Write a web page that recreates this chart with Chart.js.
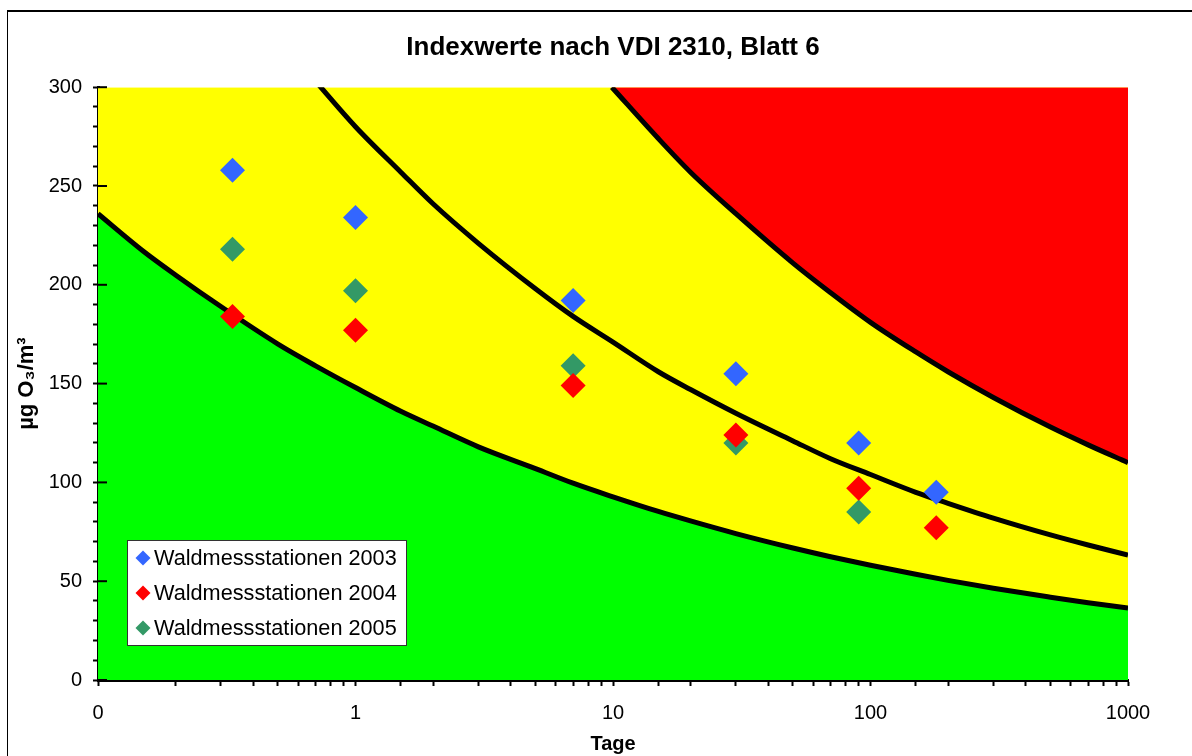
<!DOCTYPE html>
<html>
<head>
<meta charset="utf-8">
<script src="https://cdn.jsdelivr.net/npm/chart.js@4"></script>
<style>
  html, body { margin: 0; padding: 0; background: #fff; overflow: hidden; }
  #wrap { position: relative; width: 1192px; height: 756px; }
  #frame { position: absolute; left: 7px; top: 10px; width: 1300px; height: 800px;
           border-top: 2px solid #000; border-left: 1px solid #000; pointer-events: none; }
</style>
</head>
<body>
<div id="wrap">
  <canvas id="chart" width="1192" height="756"></canvas>
  <div id="frame"></div>
</div>
<script>
/* ── Messwerte (Tage / µg O3/m3) ───────────────────────── */
const tage      = [0.333, 1, 7, 30, 90, 180];
const werte2003 = [258, 234, 192, 155, 120, 95];
const werte2004 = [184, 177, 149, 124, 97, 77];
const werte2005 = [218, 197, 159, 120, 85];

/* ── Grenzkurven ───────────────────────────────────────── */
const untereX = [0.1, 0.15, 0.2, 0.3, 0.5, 0.7, 1, 1.5, 2, 3, 5, 7, 10, 15, 20, 30, 50, 70, 100, 150, 200, 300, 500, 700, 1000];
const untereY = [236, 217, 205, 189, 170, 159, 148, 136, 128.5, 118, 107, 99.6, 92.7, 85.3, 80.5, 74.1, 66.8, 62.4, 58.1, 53.5, 50.4, 46.4, 41.9, 39.1, 36.4];

const mittlereX = [0.5, 0.7, 1, 1.5, 2, 3, 5, 7, 10, 15, 20, 30, 50, 70, 100, 150, 200, 300, 500, 700, 1000];
const mittlereY = [325, 303, 280, 257, 241, 221, 198, 184, 171, 156, 147, 135, 121, 112, 104, 95, 89.4, 81.9, 73.4, 68.3, 63.2];

const obereX = [9.9, 15, 20, 30, 50, 70, 100, 150, 200, 300, 500, 700, 1000];
const obereY = [300, 274, 257, 236, 211, 196, 181, 166, 156, 143, 128, 119, 110];

const xTicks  = [0.1, 1, 10, 100, 1000];
const xLabels = ['0', '1', '10', '100', '1000'];

const FONT = "'Liberation Sans', Arial, sans-serif";
const pts  = (xs, ys) => ys.map((y, i) => ({ x: xs[i], y }));

const serien = [
  { label: 'Waldmessstationen 2003', data: werte2003, color: '#3366FF' },
  { label: 'Waldmessstationen 2004', data: werte2004, color: '#FF0000' },
  { label: 'Waldmessstationen 2005', data: werte2005, color: '#339966' }
];

/* legend box inside the plot, bottom left */
const innerLegend = {
  id: 'innerLegend',
  afterDatasetsDraw (chart) {
    const { ctx, chartArea: a } = chart;
    const left = a.left + 29, top = a.bottom - 140, w = 279, h = 105;
    ctx.save();
    ctx.fillStyle = '#fff';
    ctx.fillRect(left, top, w, h);
    ctx.strokeStyle = '#333';
    ctx.lineWidth = 1;
    ctx.strokeRect(left + 0.5, top + 0.5, w, h);
    ctx.font = '21.7px ' + FONT;
    ctx.textBaseline = 'middle';
    serien.forEach((s, i) => {
      const cy = top + 18 + i * 35, cx = left + 16, r = 7.5;
      ctx.fillStyle = s.color;
      ctx.beginPath();
      ctx.moveTo(cx, cy - r); ctx.lineTo(cx + r, cy);
      ctx.lineTo(cx, cy + r); ctx.lineTo(cx - r, cy);
      ctx.closePath(); ctx.fill();
      ctx.fillStyle = '#000';
      ctx.fillText(s.label, left + 27, cy + 1);
    });
    ctx.restore();
  }
};

/* major y ticks cross the axis */
const crossTicks = {
  id: 'crossTicks',
  afterDatasetsDraw (chart) {
    const { ctx, scales: { y }, chartArea: a } = chart;
    ctx.save();
    ctx.strokeStyle = '#000';
    ctx.lineWidth = 2;
    for (let v = 0; v <= 300; v += 50) {
      const py = y.getPixelForValue(v);
      ctx.beginPath(); ctx.moveTo(a.left, py); ctx.lineTo(a.left + 9, py); ctx.stroke();
    }
    ctx.restore();
  }
};

const kurve = (xs, ys, fill, bg) => ({
  data: pts(xs, ys), showLine: true, pointRadius: 0, borderColor: '#000',
  borderWidth: 5, cubicInterpolationMode: 'monotone', fill, backgroundColor: bg
});

new Chart(document.getElementById('chart'), {
  type: 'scatter',
  data: {
    datasets: [
      ...serien.map(s => ({
        label: s.label, data: pts(tage, s.data), pointStyle: 'rectRot',
        pointRadius: 12.5, pointHoverRadius: 12.5, borderWidth: 0,
        backgroundColor: s.color, borderColor: s.color
      })),
      kurve(untereX, untereY, 'origin', '#00FF00'),
      kurve(mittlereX, mittlereY, false, 'transparent'),
      kurve(obereX, obereY, 'end', '#FF0000'),
      { ...kurve(untereX, untereY, 'end', '#FFFF00'), borderWidth: 0 }
    ]
  },
  options: {
    responsive: false,
    animation: false,
    layout: { padding: { left: 0, right: 64, top: 0, bottom: 0 } },
    plugins: {
      legend: { display: false },
      tooltip: { enabled: false },
      title: {
        display: true, fullSize: false, text: 'Indexwerte nach VDI 2310, Blatt 6', color: '#000',
        font: { family: FONT, size: 26, weight: 'bold' },
        padding: { top: 32, bottom: 24 }
      }
    },
    scales: {
      x: {
        type: 'logarithmic', min: 0.1, max: 1000,
        border: { color: '#000', width: 3 },
        grid: { drawOnChartArea: false, color: '#000', tickLength: 6, tickWidth: 2 },
        ticks: {
          color: '#000', font: { family: FONT, size: 20 }, padding: 15,
          autoSkip: false, maxRotation: 0,
          callback: v => {
            const i = xTicks.findIndex(t => Math.abs(t - v) < t * 1e-6);
            return i >= 0 ? xLabels[i] : '';
          }
        },
        title: {
          display: true, text: 'Tage', color: '#000',
          font: { family: FONT, size: 20, weight: 'bold' }, padding: { top: 0, bottom: 0 }
        },
        afterFit: s => { s.height = 76; }
      },
      y: {
        min: 0, max: 300,
        border: { color: '#000', width: 3 },
        grid: { drawOnChartArea: false, color: '#000', tickLength: 5, tickWidth: 2 },
        ticks: {
          stepSize: 10, color: '#000', font: { family: FONT, size: 20 }, padding: 11,
          autoSkip: false,
          callback: v => (v % 50 === 0 ? String(v) : '')
        },
        title: {
          display: true, text: 'µg O₃/m³', color: '#000',
          font: { family: FONT, size: 22, weight: 'bold' }, padding: { top: 14, bottom: 0 }
        },
        afterFit: s => { s.width = 98; }
      }
    }
  },
  plugins: [innerLegend, crossTicks]
});
</script>
</body>
</html>
